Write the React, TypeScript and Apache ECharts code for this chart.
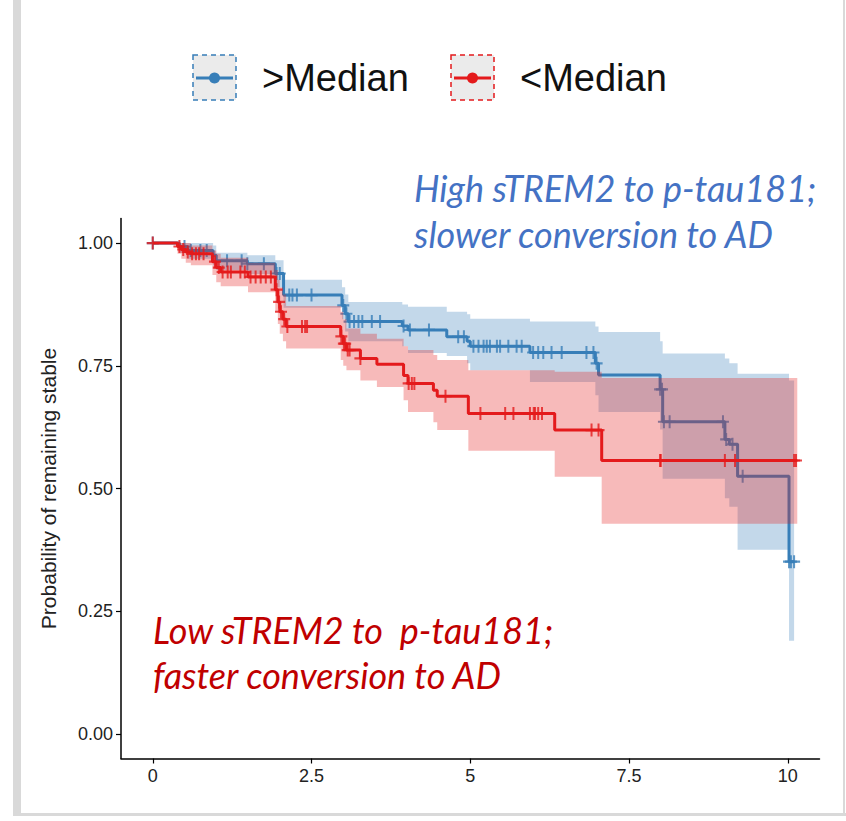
import React, { useEffect, useRef } from "react";
import * as echarts from "echarts";

// ---- data ----
const xTicks = [0, 2.5, 5, 7.5, 10];
const yTicks = [0, 0.25, 0.5, 0.75, 1];

// >Median (blue)
const blueTimes = [0, 0.42, 0.55, 0.95, 1.0, 1.49, 1.93, 2.06, 2.98, 3.03, 3.08, 3.93, 4.02, 4.63, 4.95, 5.0, 5.94, 6.97, 7.02, 7.99, 8.03, 9.01, 9.08, 9.21, 10.02];
const blueSurv = [1.0, 0.993, 0.985, 0.975, 0.964, 0.958, 0.938, 0.894, 0.873, 0.856, 0.84, 0.831, 0.823, 0.809, 0.8, 0.79, 0.777, 0.755, 0.731, 0.702, 0.636, 0.6, 0.59, 0.525, 0.351];
const blueUpper = [1.0, 1.0, 1.0, 0.995, 0.98, 0.975, 0.965, 0.925, 0.91, 0.895, 0.88, 0.875, 0.87, 0.86, 0.855, 0.846, 0.84, 0.83, 0.819, 0.8, 0.775, 0.765, 0.755, 0.734, 0.72];
const blueLower = [1.0, 0.98, 0.968, 0.955, 0.945, 0.937, 0.91, 0.868, 0.845, 0.82, 0.8, 0.79, 0.776, 0.77, 0.755, 0.741, 0.717, 0.69, 0.656, 0.62, 0.52, 0.48, 0.463, 0.375, 0.19];
const blueEnd = 10.1;
const blueCensor = [0, 0.5, 0.6, 0.75, 0.85, 1.17, 1.4, 1.49, 1.75, 1.95, 2.0, 2.15, 2.2, 2.27, 2.5, 3.0, 3.05, 3.1, 3.17, 3.24, 3.3, 3.45, 3.58, 3.95, 4.05, 4.35, 4.81, 4.9, 5.05, 5.13, 5.21, 5.26, 5.31, 5.42, 5.47, 5.6, 5.73, 5.81, 5.99, 6.07, 6.15, 6.28, 6.44, 6.83, 6.94, 6.99, 7.99, 8.02, 8.05, 8.14, 8.98, 9.03, 9.13, 9.29, 10.02, 10.05, 10.1];

// <Median (red)
const redTimes = [0, 0.39, 0.45, 0.52, 0.6, 0.94, 1.0, 1.07, 1.5, 1.93, 1.97, 2.0, 2.05, 2.1, 2.96, 3.0, 3.05, 3.27, 3.53, 3.95, 4.02, 4.42, 4.48, 4.97, 6.33, 7.07];
const redSurv = [1.0, 0.993, 0.987, 0.982, 0.978, 0.962, 0.95, 0.941, 0.931, 0.905, 0.88, 0.86, 0.845, 0.83, 0.81, 0.795, 0.782, 0.765, 0.753, 0.73, 0.714, 0.7, 0.688, 0.653, 0.619, 0.557];
const redUpper = [1.0, 1.0, 1.0, 1.0, 0.995, 0.985, 0.978, 0.97, 0.96, 0.945, 0.925, 0.91, 0.895, 0.872, 0.86, 0.845, 0.826, 0.815, 0.805, 0.79, 0.782, 0.772, 0.762, 0.741, 0.738, 0.725];
const redLower = [1.0, 0.978, 0.968, 0.96, 0.955, 0.935, 0.92, 0.912, 0.9, 0.86, 0.835, 0.815, 0.8, 0.785, 0.762, 0.75, 0.741, 0.72, 0.707, 0.68, 0.656, 0.635, 0.619, 0.577, 0.524, 0.428];
const redEnd = 10.15;
const redCensor = [0, 0.42, 0.48, 0.55, 0.62, 0.68, 0.73, 0.8, 0.98, 1.04, 1.1, 1.18, 1.23, 1.38, 1.45, 1.54, 1.62, 1.7, 1.78, 1.86, 1.95, 1.99, 2.02, 2.07, 2.12, 2.35, 2.4, 2.43, 2.97, 3.01, 3.03, 3.07, 3.1, 3.27, 4.03, 4.08, 4.12, 4.61, 5.16, 5.55, 5.68, 5.94, 6.0, 6.02, 6.07, 6.13, 6.91, 7.02, 7.99, 8.0, 9.01, 9.17, 10.1, 10.13];

const legendLabels = [">Median", "<Median"];
const yTitle = "Probability of remaining stable";
const noteHigh = ["High sTREM2 to p-tau181;", "slower conversion to AD"];
const noteLow = ["Low sTREM2 to  p-tau181;", "faster conversion to AD"];

// ---- helpers ----
const BLUE = "#377EB8";
const RED = "#E41A1C";
const SANS = '"Liberation Sans", Arial, Helvetica, sans-serif';
const NARROW = '"Liberation Sans Narrow", "Liberation Sans", Arial, sans-serif';
const NOTE_FONT = 'italic 36px Lato, "Open Sans", sans-serif';
const PLUS = "path://M5,0H7V12H5ZM0,5H12V7H0Z";

function stepLine(times: number[], surv: number[], end: number) {
  const d = times.map((t, i) => [t, surv[i]]);
  d.push([end, surv[surv.length - 1]]);
  return d;
}
function stepAt(times: number[], surv: number[], t: number) {
  let v = surv[0];
  for (let i = 0; i < times.length; i++) if (times[i] <= t) v = surv[i];
  return v;
}
function censorData(c: number[], times: number[], surv: number[]) {
  return c.map((t) => [t, stepAt(times, surv, t)]);
}
function bandSeries(times: number[], up: number[], lo: number[], end: number, fill: string, z: number) {
  return {
    type: "custom",
    z,
    silent: true,
    data: [[0, 0]],
    renderItem: (_p: any, api: any) => {
      const pts: number[][] = [];
      for (let i = 0; i < times.length; i++) {
        const t1 = i + 1 < times.length ? times[i + 1] : end;
        pts.push(api.coord([times[i], up[i]]));
        pts.push(api.coord([t1, up[i]]));
      }
      for (let i = times.length - 1; i >= 0; i--) {
        const t1 = i + 1 < times.length ? times[i + 1] : end;
        pts.push(api.coord([t1, lo[i]]));
        pts.push(api.coord([times[i], lo[i]]));
      }
      return { type: "polygon", shape: { points: pts }, style: { fill } };
    },
  };
}

export default function App() {
  const ref = useRef<HTMLDivElement>(null);
  useEffect(() => {
    if (!ref.current) return;
    const chart = echarts.init(ref.current, null, { renderer: "svg" });
    const legendItems = legendLabels.map((lab, i) => {
      const color = i === 0 ? BLUE : RED;
      const bx = i === 0 ? 193 : 451;
      const tx = i === 0 ? 262 : 520;
      return [
        { type: "rect", shape: { x: bx, y: 55, width: 43, height: 45 }, style: { fill: "#EBEBEB", stroke: color, lineWidth: 1.5, lineDash: [5, 4] } },
        { type: "line", shape: { x1: bx + 3, y1: 78, x2: bx + 40, y2: 78 }, style: { stroke: color, lineWidth: 3 } },
        { type: "circle", shape: { cx: bx + 21.5, cy: 78, r: 5.5 }, style: { fill: color } },
        { type: "text", x: tx, y: 78, style: { text: lab, font: `38px ${SANS}`, fill: "#111", verticalAlign: "middle" } },
      ];
    }).flat();
    const notes = [
      ...noteHigh.map((s, i) => ({ type: "text", x: 414, y: 188 + i * 46, style: { text: s, font: NOTE_FONT, fill: "#4472C4", verticalAlign: "middle" } })),
      ...noteLow.map((s, i) => ({ type: "text", x: 153, y: 630 + i * 45, style: { text: s, font: NOTE_FONT, fill: "#C00000", verticalAlign: "middle" } })),
    ];
    const frame = [
      { type: "rect", shape: { x: 13, y: 0, width: 8, height: 816 }, style: { fill: "#D9D9D9" } },
      { type: "rect", shape: { x: 13, y: 813, width: 833, height: 3 }, style: { fill: "#D9D9D9" } },
      { type: "rect", shape: { x: 843, y: 0, width: 2, height: 816 }, style: { fill: "#D9D9D9" } },
    ];
    chart.setOption({
      animation: false,
      backgroundColor: "#fff",
      grid: { left: 121, top: 218.5, width: 698.5, height: 540, containLabel: false, outerBoundsMode: "none" },
      xAxis: {
        type: "value", min: -0.5, max: 10.5,
        axisLine: { show: true, onZero: false, lineStyle: { color: "#000", width: 1.5 } },
        axisTick: { show: true, customValues: xTicks, length: 5, lineStyle: { color: "#000", width: 1.2 } },
        axisLabel: { customValues: xTicks, fontSize: 18, color: "#222", margin: 8, fontFamily: NARROW },
        splitLine: { show: false },
      },
      yAxis: {
        type: "value", min: -0.05, max: 1.05,
        name: yTitle, nameLocation: "middle", nameGap: 62,
        nameTextStyle: { fontSize: 21, color: "#222", fontFamily: SANS },
        axisLine: { show: true, onZero: false, lineStyle: { color: "#000", width: 1.5 } },
        axisTick: { show: true, customValues: yTicks, length: 5, lineStyle: { color: "#000", width: 1.2 } },
        axisLabel: { customValues: yTicks, fontSize: 18, color: "#222", margin: 8, fontFamily: NARROW, formatter: (v: number) => v.toFixed(2) },
        splitLine: { show: false },
      },
      graphic: [...frame, ...legendItems, ...notes],
      series: [
        bandSeries(blueTimes, blueUpper, blueLower, blueEnd, "rgba(55,126,184,0.3)", 1),
        { type: "line", z: 2, step: "end", data: stepLine(blueTimes, blueSurv, blueEnd), showSymbol: false, symbol: "none", lineStyle: { color: BLUE, width: 3 }, silent: true },
        { type: "scatter", z: 3, data: censorData(blueCensor, blueTimes, blueSurv), symbol: PLUS, symbolSize: [12, 13], itemStyle: { color: BLUE }, silent: true },
        bandSeries(redTimes, redUpper, redLower, redEnd, "rgba(228,26,28,0.3)", 4),
        { type: "line", z: 5, step: "end", data: stepLine(redTimes, redSurv, redEnd), showSymbol: false, symbol: "none", lineStyle: { color: RED, width: 3 }, silent: true },
        { type: "scatter", z: 6, data: censorData(redCensor, redTimes, redSurv), symbol: PLUS, symbolSize: [12, 13], itemStyle: { color: RED }, silent: true },
      ],
    });
    return () => chart.dispose();
  }, []);
  return <div ref={ref} style={{ position: "absolute", left: 0, top: 0, width: 846, height: 821, background: "#fff" }} />;
}
